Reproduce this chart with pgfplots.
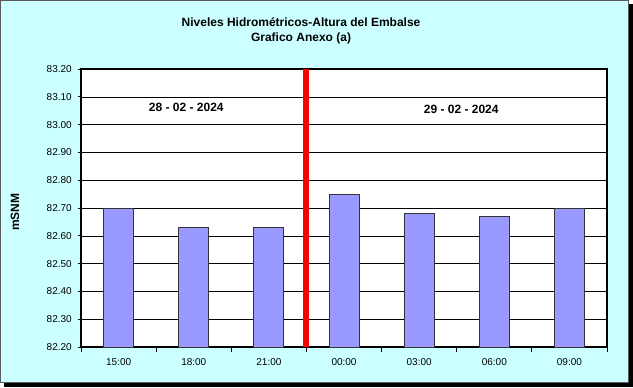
\documentclass[border=0pt]{standalone}
\usepackage{fontspec}
\setmainfont{Liberation Sans}
\usepackage{pgfplots}
\pgfplotsset{compat=1.18}
\definecolor{bgcyan}{HTML}{CCFFFF}
\definecolor{barblue}{HTML}{9999FF}
\begin{document}
\begin{tikzpicture}
% frame
\fill[black] (3pt,0pt) rectangle (474.75pt,287.25pt);
\fill[bgcyan] (0pt,3pt) rectangle (471.75pt,290.25pt);
\draw[gray!70!black,line width=0.75pt] (0.3pt,3.3pt) rectangle (471.45pt,289.95pt);
% titles
\node[font=\bfseries\fontsize{9}{11}\selectfont] at (225.75pt,273.75pt) {Niveles Hidrométricos-Altura del Embalse};
\node[font=\bfseries\fontsize{9}{11}\selectfont] at (225.75pt,261.75pt) {Grafico Anexo (a)};
\node[font=\bfseries\fontsize{9}{11}\selectfont,rotate=90] at (11.25pt,131.25pt) {mSNM};
\begin{axis}[
  at={(60.75pt,30pt)}, anchor=south west,
  scale only axis, width=394.5pt, height=208.5pt,
  xmin=-0.5, xmax=6.5, ymin=82.2, ymax=83.2,
  ytick={82.2,82.3,...,83.21},
  yticklabel={\pgfmathprintnumber[fixed,fixed zerofill,precision=2]{\tick}},
  /pgf/number format/assume math mode=true,
  xtick={0,...,6},
  xticklabels={15:00,18:00,21:00,00:00,03:00,06:00,09:00},
  major x tick style={draw=none},
  extra x ticks={-0.5,0.5,1.5,2.5,3.5,4.5,5.5,6.5},
  extra x tick labels={},
  extra x tick style={major tick length=3.5pt, major x tick style={draw=black,line width=0.7pt}, xmajorgrids=false},
  tick align=outside,
  major tick length=2.5pt,
  xtick pos=bottom, ytick pos=left,
  ymajorgrids, grid style={black,line width=0.5pt},
  axis line style={black,line width=0.9pt},
  tick style={black,line width=0.6pt},
  ticklabel style={font=\fontsize{7.5}{9}\selectfont},
  yticklabel style={xshift=-1pt},
  xticklabel style={yshift=-2.5pt},
  axis background/.style={fill=white},
  clip=false,
]
\addplot[ybar, bar width=22.5pt, fill=barblue, draw=black!80, line width=0.7pt, bar shift=0pt]
  coordinates {(0,82.70) (1,82.63) (2,82.63) (3,82.75) (4,82.68) (5,82.67) (6,82.70)};
\addplot[red, line width=4.5pt] coordinates {(2.5,82.2) (2.5,83.2)};
\node[font=\bfseries\fontsize{9}{11}\selectfont] at (axis cs:0.9,83.063) {28 - 02 - 2024};
\node[font=\bfseries\fontsize{9}{11}\selectfont] at (axis cs:4.56,83.056) {29 - 02 - 2024};
\end{axis}
\end{tikzpicture}
\end{document}
